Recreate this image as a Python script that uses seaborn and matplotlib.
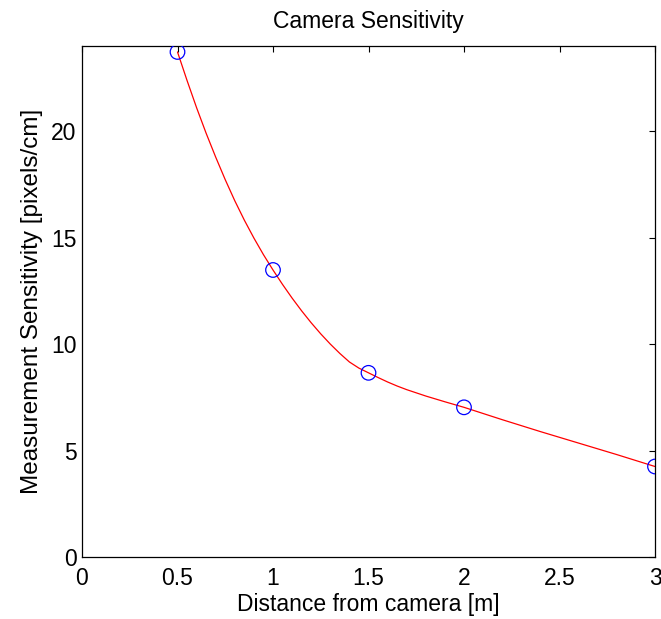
import numpy as np
import pandas as pd
import seaborn as sns
import matplotlib
matplotlib.use("Agg")
import matplotlib.pyplot as plt

# measured points
distance = [0.5, 1.0, 1.5, 2.0, 3.0]
sensitivity = [23.72, 13.48, 8.65, 7.03, 4.25]

# smooth fitted curve
curve_x = [0.5, 0.55, 0.6, 0.65, 0.7, 0.75, 0.8, 0.85, 0.9, 0.95, 1.0,
           1.05, 1.1, 1.15, 1.2, 1.25, 1.3, 1.35, 1.4, 1.45, 1.5,
           1.55, 1.6, 1.65, 1.7, 1.8, 1.9, 2.0,
           2.1, 2.2, 2.3, 2.4, 2.5, 2.6, 2.7, 2.8, 2.9, 3.0]
curve_y = [23.72, 22.38, 21.1, 19.9, 18.78, 17.72, 16.73, 15.82, 14.98, 14.2, 13.48,
           12.8, 12.16, 11.56, 11.0, 10.48, 10.0, 9.56, 9.16, 8.87, 8.65,
           8.43, 8.22, 8.03, 7.86, 7.56, 7.29, 7.03,
           6.74, 6.45, 6.17, 5.89, 5.62, 5.35, 5.08, 4.81, 4.53, 4.25]

xticks = [0, 0.5, 1, 1.5, 2, 2.5, 3]
xticklabels = ["0", "0.5", "1", "1.5", "2", "2.5", "3"]
yticks = [0, 5, 10, 15, 20]

pts = pd.DataFrame({"d": distance, "s": sensitivity})
fit = pd.DataFrame({"d": curve_x, "s": curve_y})

sns.set_style("white")
plt.rcParams["font.family"] = ["Liberation Sans", "DejaVu Sans"]
plt.rcParams["text.color"] = "black"
plt.rcParams["axes.labelcolor"] = "black"

fig = plt.figure(figsize=(6.61, 6.19), dpi=100)
ax = fig.add_axes([82 / 661, 1 - 557 / 619, 573 / 661, 511 / 619])

sns.lineplot(data=fit, x="d", y="s", ax=ax, color="#ff0000", linewidth=0.9,
             sort=False, estimator=None)
sns.scatterplot(data=pts, x="d", y="s", ax=ax, s=110, marker="o",
                facecolors="none", edgecolor="#0000ff", linewidth=0.9, zorder=3)

ax.set_xlim(0, 3)
ax.set_ylim(0, 24)
ax.set_xticks(xticks)
ax.set_xticklabels(xticklabels)
ax.set_yticks(yticks)
ax.tick_params(direction="in", length=4.5, width=0.8, top=True, right=True,
               labelsize=16.5, colors="black")
ax.tick_params(axis="x", pad=7)
ax.tick_params(axis="y", pad=4)
for sp in ax.spines.values():
    sp.set_color("black")
    sp.set_linewidth(0.9)

ax.set_xlabel("Distance from camera [m]", fontsize=16.5, labelpad=2)
ax.set_ylabel("Measurement Sensitivity [pixels/cm]", fontsize=17.5, labelpad=6)
ax.set_title("Camera Sensitivity", fontsize=16.5, pad=13, color="black")

fig.savefig("out.png", dpi=100)
